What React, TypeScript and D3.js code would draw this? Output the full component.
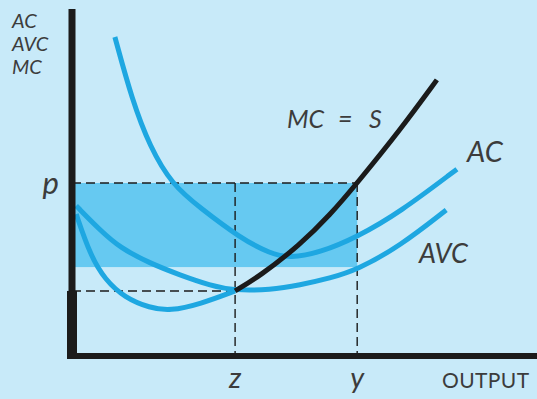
import React from "react";
import * as d3 from "d3";

// Cost curves of a competitive firm (output on x, cost per unit on y)
const acOutput = [9.2, 12.9, 16.7, 21.5, 27.5, 36.1, 42.5, 46.8, 53.2, 61.2, 70.4, 82.6];
const acCost = [92.2, 74.0, 60.5, 49.5, 42.8, 34.1, 29.6, 28.3, 29.9, 34.4, 41.6, 54.0];

const avcOutput = [0.9, 6.0, 10.3, 16.7, 23.2, 29.6, 35.0, 42.5, 48.9, 55.4, 61.2, 70.4, 80.3];
const avcCost = [43.4, 36.4, 31.3, 26.8, 23.4, 20.4, 18.9, 19.1, 20.5, 22.5, 24.9, 31.8, 42.2];

// Marginal cost below the shutdown point (drawn blue)
const mcLowOutput = [0.9, 3.9, 7.1, 11.4, 16.7, 21.0, 27.5, 35.0];
const mcLowCost = [41.0, 29.2, 22.0, 16.8, 13.9, 13.0, 15.0, 18.8];

// Marginal cost above the shutdown point = supply curve (drawn black)
const mcHighOutput = [35.0, 40.3, 48.9, 55.4, 61.2, 70.4, 78.3];
const mcHighCost = [18.8, 23.1, 32.1, 40.8, 50.0, 65.3, 79.8];

const price = 50.0; // p
const shutdownPrice = 18.8;
const outputZ = 35.0;
const outputY = 61.2;
const shadeBottom = 25.7;

const yAxisLabels = ["AC", "AVC", "MC"];
const xTickLabels = ["z", "y"];

const W = 537;
const H = 399;

const BG = "#c8eaf9";
const SHADE = "#66c9f1";
const BLUE = "#1ea7e1";
const INK = "#1b1b1b";
const TEXT = "#3c3c3c";

export default function App() {
  const x = d3.scaleLinear().domain([0, 100]).range([72, 538]);
  const y = d3.scaleLinear().domain([0, 100]).range([356, 10]);

  const line = d3
    .line<[number, number]>()
    .x((d) => x(d[0]))
    .y((d) => y(d[1]))
    .curve(d3.curveBasis);

  const zip = (a: number[], b: number[]) => a.map((v, i) => [v, b[i]] as [number, number]);

  const font = "Lato, 'Open Sans', sans-serif";

  return (
    <svg
      width={W}
      height={H}
      viewBox={`0 0 ${W} ${H}`}
      style={{ position: "absolute", left: 0, top: 0, display: "block" }}
    >
      <rect x={0} y={0} width={W} height={H} fill={BG} />

      {/* shaded area */}
      <rect
        x={x(0)}
        y={y(price)}
        width={x(outputY) - x(0)}
        height={y(shadeBottom) - y(price)}
        fill={SHADE}
      />

      {/* dashed guides */}
      <g stroke={INK} strokeWidth={1.4} strokeDasharray="9,5" fill="none">
        <line x1={x(0)} y1={y(price)} x2={x(outputY)} y2={y(price)} />
        <line x1={x(0)} y1={y(shutdownPrice)} x2={x(outputZ)} y2={y(shutdownPrice)} />
        <line x1={x(outputZ)} y1={y(price)} x2={x(outputZ)} y2={y(0)} />
        <line x1={x(outputY)} y1={y(price)} x2={x(outputY)} y2={y(0)} />
      </g>

      {/* curves */}
      <g fill="none" strokeLinecap="butt" strokeLinejoin="round">
        <path d={line(zip(acOutput, acCost)) ?? ""} stroke={BLUE} strokeWidth={5} />
        <path d={line(zip(avcOutput, avcCost)) ?? ""} stroke={BLUE} strokeWidth={5} />
        <path d={line(zip(mcLowOutput, mcLowCost)) ?? ""} stroke={BLUE} strokeWidth={5} />
        <path d={line(zip(mcHighOutput, mcHighCost)) ?? ""} stroke={INK} strokeWidth={5} />
      </g>

      {/* axes */}
      <line x1={x(0)} y1={9} x2={x(0)} y2={359} stroke={INK} strokeWidth={7} />
      <line x1={x(0)} y1={y(shutdownPrice)} x2={x(0)} y2={359} stroke={INK} strokeWidth={10} />
      <line x1={68} y1={y(0)} x2={W} y2={y(0)} stroke={INK} strokeWidth={6} />

      {/* axis titles */}
      <g fill={TEXT} fontFamily={font} fontStyle="italic" fontSize={20}>
        {yAxisLabels.map((t, i) => (
          <text key={t} x={12} y={28 + i * 23}>
            {t}
          </text>
        ))}
      </g>
      <text x={442} y={388} fill={TEXT} fontFamily={font} fontSize={21} letterSpacing={0.4}>
        OUTPUT
      </text>

      {/* value labels */}
      <text x={59} y={194} fill={TEXT} fontFamily={font} fontStyle="italic" fontSize={31} textAnchor="end">
        p
      </text>
      {[outputZ, outputY].map((v, i) => (
        <text
          key={xTickLabels[i]}
          x={x(v)}
          y={388}
          fill={TEXT}
          fontFamily={font}
          fontStyle="italic"
          fontSize={29}
          textAnchor="middle"
        >
          {xTickLabels[i]}
        </text>
      ))}

      {/* curve labels */}
      <g fill={TEXT} fontFamily={font} fontStyle="italic">
        <text y={128} fontSize={25}>
          <tspan x={287}>MC</tspan>
          <tspan x={338}>=</tspan>
          <tspan x={369}>S</tspan>
        </text>
        <text x={467} y={162} fontSize={29}>
          AC
        </text>
        <text x={419} y={263} fontSize={27}>
          AVC
        </text>
      </g>
    </svg>
  );
}
